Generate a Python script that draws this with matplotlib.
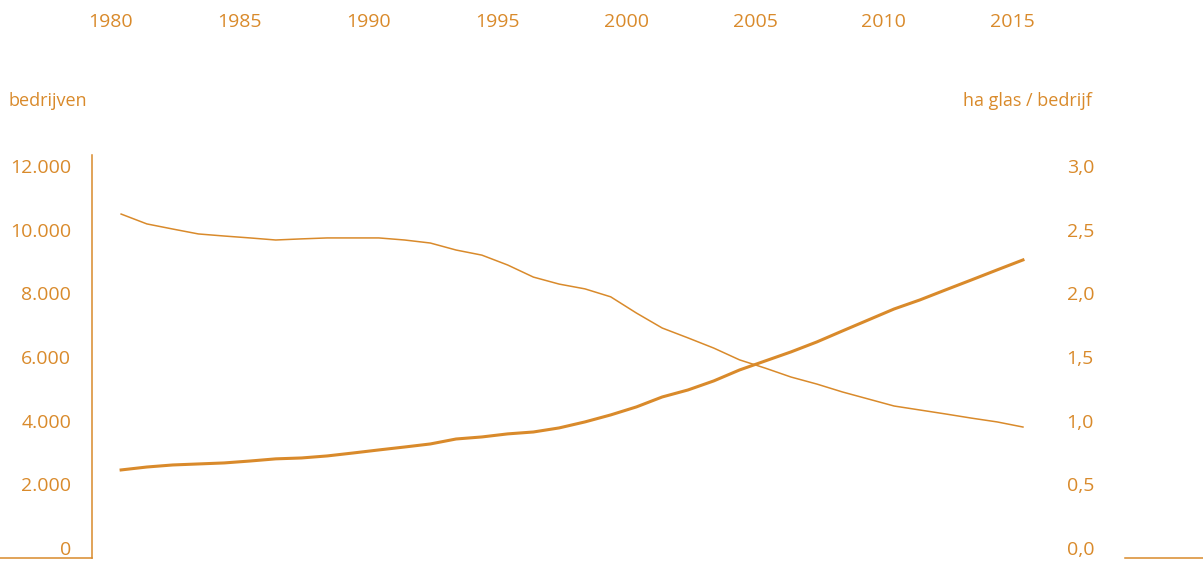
import matplotlib
matplotlib.use("Agg")
import matplotlib.pyplot as plt
import numpy as np
from matplotlib.lines import Line2D

# kleuren
oranje = "#d98a2b"
plt.rcParams['font.family'] = ['Open Sans', 'DejaVu Sans']

# data
jaren = list(range(1980, 2016))
bedrijven = [10490, 10180, 10020, 9865, 9800, 9740, 9675, 9710, 9740, 9740,
             9740, 9675, 9580, 9360, 9200, 8890, 8510, 8290, 8140, 7890,
             7380, 6910, 6600, 6280, 5910, 5650, 5370, 5150, 4900, 4680,
             4460, 4335, 4210, 4080, 3960, 3800]
ha_per_bedrijf = [0.613, 0.636, 0.652, 0.660, 0.668, 0.683, 0.700, 0.707, 0.723, 0.746,
                  0.770, 0.793, 0.817, 0.856, 0.872, 0.896, 0.911, 0.943, 0.990, 1.045,
                  1.108, 1.186, 1.241, 1.312, 1.398, 1.469, 1.540, 1.618, 1.705, 1.791,
                  1.877, 1.948, 2.027, 2.105, 2.184, 2.262]
jaar_labels = [1980, 1985, 1990, 1995, 2000, 2005, 2010, 2015]
links_ticks = [0, 2000, 4000, 6000, 8000, 10000, 12000]
links_labels = ["0", "2.000", "4.000", "6.000", "8.000", "10.000", "12.000"]
rechts_ticks = [0, 0.5, 1.0, 1.5, 2.0, 2.5, 3.0]
rechts_labels = ["0,0", "0,5", "1,0", "1,5", "2,0", "2,5", "3,0"]

fig = plt.figure(figsize=(12.03, 5.62), dpi=100)
ax = fig.add_axes([92/1203, 4/562, (1125-92)/1203, 403/562])
ax2 = ax.twinx()

ax.plot(jaren, bedrijven, color=oranje, lw=1.1)
ax2.plot(jaren, ha_per_bedrijf, color=oranje, lw=2.2)

ax.set_xlim(1978.87, 2018.96)
ax.set_ylim(-314, 12345)
ax2.set_ylim(-0.0785, 3.086)

# assen opmaken
for s in ["top", "right", "bottom"]:
    ax.spines[s].set_visible(False)
for s in ["top", "right", "bottom", "left"]:
    ax2.spines[s].set_visible(False)
ax.spines["left"].set_color(oranje)
ax.spines["left"].set_linewidth(1.1)

ax.set_yticks(links_ticks)
ax.set_yticklabels(links_labels)
ax.tick_params(axis="y", length=0, pad=15, labelsize=14, labelcolor=oranje)

ax2.set_yticks(rechts_ticks)
ax2.set_yticklabels(rechts_labels)
ax2.tick_params(axis="y", length=0, pad=-42, labelsize=14, labelcolor=oranje)

ax.set_xticks(np.array(jaar_labels) - 0.4)
ax.set_xticklabels([str(j) for j in jaar_labels])
ax.tick_params(axis="x", bottom=False, labelbottom=False, top=True, labeltop=True,
               length=0, pad=89, labelsize=14, labelcolor=oranje)

# titels van de assen
fig.text(8/1203, 1 - 101/562, "bedrijven", color=oranje, fontsize=13, va="center", ha="left")
fig.text(1092/1203, 1 - 101/562, "ha glas / bedrijf", color=oranje, fontsize=13, va="center", ha="right")

# losse lijntjes onderaan
fig.add_artist(Line2D([0, 92/1203], [4/562, 4/562], color=oranje, lw=1.1))
fig.add_artist(Line2D([1125/1203, 1], [4/562, 4/562], color=oranje, lw=1.1))

fig.savefig("out.png", dpi=100)
